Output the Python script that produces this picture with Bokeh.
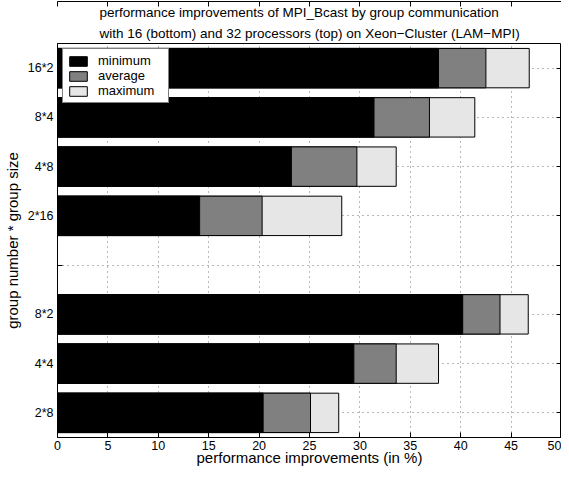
from bokeh.plotting import figure
from bokeh.models import (FixedTicker, Range1d, LinearAxis, Title, Legend, LegendItem,
                          ColumnDataSource)
from bokeh.embed import file_html
from bokeh.resources import INLINE

# ---- data ----
categories = ["2*8", "4*4", "8*2", "", "2*16", "4*8", "8*4", "16*2"]
positions = [1, 2, 3, 5, 6, 7, 8]
labels = ["2*8", "4*4", "8*2", "2*16", "4*8", "8*4", "16*2"]
minimum = [20.4, 29.4, 40.2, 14.1, 23.2, 31.4, 37.8]
average = [25.1, 33.6, 43.9, 20.3, 29.7, 36.9, 42.5]
maximum = [27.9, 37.8, 46.7, 28.2, 33.6, 41.4, 46.8]
x_ticks = [0, 5, 10, 15, 20, 25, 30, 35, 40, 45, 50]

FONT = "Liberation Sans"

src = ColumnDataSource(dict(y=positions, mn=minimum, av=average, mx=maximum))

p = figure(width=561, height=468, output_backend="svg", toolbar_location=None,
           x_range=Range1d(0, 50), y_range=Range1d(0.5, 8.5),
           min_border_left=50, min_border_right=0, min_border_top=43, min_border_bottom=0)

p.add_layout(Title(text="with 16 (bottom) and 32 processors (top) on Xeon\u2212Cluster (LAM\u2212MPI)",
                   text_font=FONT, text_font_size="13.5px", text_font_style="normal",
                   text_color="black", align="left", offset=42, standoff=6), "above")
p.add_layout(Title(text="performance improvements of MPI_Bcast by group communication",
                   text_font=FONT, text_font_size="13.5px", text_font_style="normal",
                   text_color="black", align="left", offset=42, standoff=2), "above")

r_max = p.hbar(y="y", left=0, right="mx", height=0.8, source=src,
               fill_color="#e6e6e6", line_color="#000000", line_width=1)
r_avg = p.hbar(y="y", left=0, right="av", height=0.8, source=src,
               fill_color="#808080", line_color="#000000", line_width=1)
r_min = p.hbar(y="y", left=0, right="mn", height=0.8, source=src,
               fill_color="#000000", line_color="#000000", line_width=1)

legend = Legend(items=[LegendItem(label="minimum", renderers=[r_min]),
                       LegendItem(label="average", renderers=[r_avg]),
                       LegendItem(label="maximum", renderers=[r_max])],
                location="top_left", label_text_font=FONT, label_text_font_size="13px",
                label_text_color="black",
                border_line_color="black", background_fill_alpha=1,
                glyph_width=22, glyph_height=12, label_height=12, label_width=66,
                spacing=0, padding=4, margin=5, label_standoff=9)
p.add_layout(legend)

xt = FixedTicker(ticks=x_ticks)
yt = FixedTicker(ticks=list(range(1, 9)))
y_over = {i + 1: c for i, c in enumerate(categories)}

for ax in p.xaxis:
    ax.ticker = xt
    ax.axis_label = "performance improvements (in %)"
    ax.major_label_standoff = 3
    ax.axis_label_standoff = -4
for ax in p.yaxis:
    ax.ticker = yt
    ax.major_label_overrides = y_over
    ax.axis_label = "group number * group size"
    ax.major_label_standoff = 4
    ax.axis_label_standoff = 4

for ax in p.axis:
    ax.major_tick_in = 5
    ax.major_tick_out = 0
    ax.minor_tick_in = 0
    ax.minor_tick_out = 0
    ax.axis_line_color = "black"
    ax.major_tick_line_color = "black"
    ax.major_label_text_font = FONT
    ax.major_label_text_font_size = "12.5px"
    ax.major_label_text_color = "black"
    ax.axis_label_text_font = FONT
    ax.axis_label_text_font_size = "15px"
    ax.axis_label_text_font_style = "normal"
    ax.axis_label_text_color = "black"

top = LinearAxis(ticker=xt, major_label_text_font_size="0px", major_tick_in=5,
                 major_tick_out=0, minor_tick_in=0, minor_tick_out=0,
                 major_label_standoff=0, axis_line_color="black")
top.major_label_text_alpha = 0
right = LinearAxis(ticker=yt, major_label_text_font_size="0px", major_tick_in=5,
                   major_tick_out=0, minor_tick_in=0, minor_tick_out=0,
                   major_label_standoff=0, axis_line_color="black")
right.major_label_text_alpha = 0
p.add_layout(top, "above")
p.add_layout(right, "right")

for g in p.grid:
    g.grid_line_color = "#707070"
    g.grid_line_dash = "1 4"
    g.grid_line_width = 1
p.ygrid.ticker = yt
p.xgrid.ticker = xt

p.outline_line_color = "black"
p.outline_line_width = 1

open("out.html", "w").write(file_html(p, INLINE))
